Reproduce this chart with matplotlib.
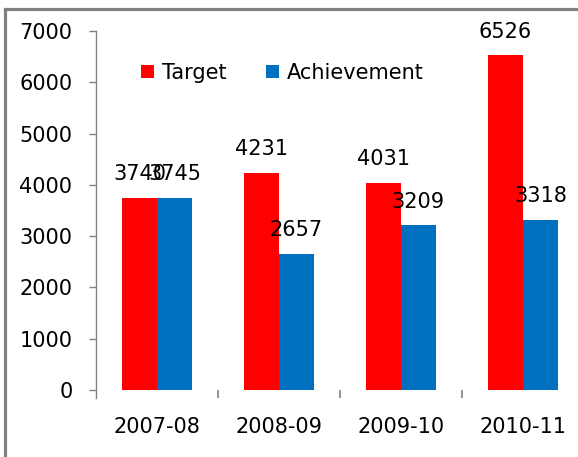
import matplotlib
matplotlib.use("Agg")
import matplotlib.pyplot as plt
from matplotlib.patches import Patch
import numpy as np

categories = ["2007-08", "2008-09", "2009-10", "2010-11"]
target = [3740, 4231, 4031, 6526]
achievement = [3745, 2657, 3209, 3318]
yticks = [0, 1000, 2000, 3000, 4000, 5000, 6000, 7000]

RED = "#FF0000"
BLUE = "#0070C0"
GRAY = "#808080"
FS = 15

W, H = 578, 457
fig = plt.figure(figsize=(W / 100, H / 100), dpi=100)
fig.patch.set_facecolor("white")

# overlay axes in pixel coordinates for the outer gray border
bg = fig.add_axes([0, 0, 1, 1])
bg.set_xlim(0, W)
bg.set_ylim(H, 0)
bg.axis("off")
bg.plot([4.5, 4.5, W + 5], [H + 5, 8.5, 8.5], color=GRAY, linewidth=2.3,
        solid_joinstyle="miter", clip_on=False)

left, right, top, bottom = 96, 584, 31, 390
ax = fig.add_axes([left / W, (H - bottom) / H, (right - left) / W, (bottom - top) / H])
ax.set_facecolor("none")

x = np.arange(len(categories))
bw = 0.285
b1 = ax.bar(x - bw / 2, target, width=bw, color=RED, label="Target")
b2 = ax.bar(x + bw / 2, achievement, width=bw, color=BLUE, label="Achievement")

for bars, vals in ((b1, target), (b2, achievement)):
    for r, v in zip(bars, vals):
        ax.annotate(str(v), (r.get_x() + r.get_width() / 2, v),
                    xytext=(0, 12.8), textcoords="offset points",
                    ha="center", va="baseline", fontsize=FS, color="black",
                    annotation_clip=False)

ax.set_xlim(-0.5, 3.5)
ax.set_ylim(0, 7000)
ax.set_yticks(yticks)
ax.set_yticklabels([str(t) for t in yticks])
ax.tick_params(axis="y", length=5, width=1, color=GRAY, pad=12, labelsize=FS)

ax.set_xticks(x)
ax.set_xticklabels(categories)
ax.set_xticks([0.5, 1.5, 2.5], minor=True)
ax.tick_params(axis="x", which="major", length=0, pad=19.5, labelsize=FS)
ax.tick_params(axis="x", which="minor", length=5.8, width=1.2, color=GRAY)

for s in ["top", "right", "bottom", "left"]:
    ax.spines[s].set_visible(False)
ax.plot([0, 0], [-8 / (bottom - top), 1], transform=ax.transAxes,
        color=GRAY, linewidth=1, clip_on=False)

handles = [Patch(facecolor=RED, label="Target"),
           Patch(facecolor=BLUE, label="Achievement")]
fig.legend(handles=handles, ncol=2, loc="center left",
           bbox_to_anchor=(141 / W, (H - 73) / H), frameon=False,
           fontsize=FS, handlelength=0.6, handleheight=0.6,
           handletextpad=0.4, columnspacing=1.9, borderpad=0, borderaxespad=0)

fig.savefig("out.png", dpi=100, facecolor="white")
